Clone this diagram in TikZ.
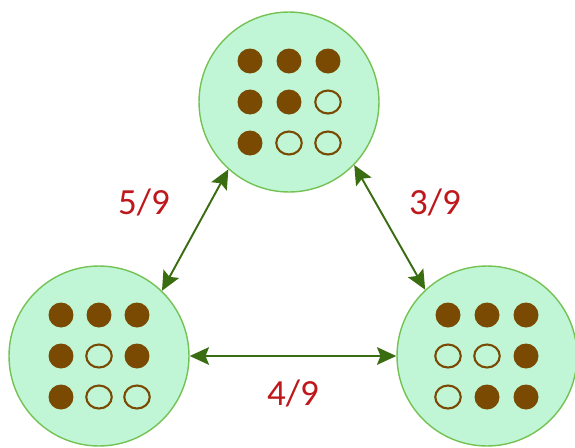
\documentclass[tikz,border=0pt]{standalone}
\usepackage{fontspec}
\setmainfont{Carlito}
\usepackage{xcolor}
\usetikzlibrary{positioning,calc,arrows.meta}

\definecolor{mint}{RGB}{192,246,214}
\definecolor{rim}{RGB}{116,194,84}
\definecolor{link}{RGB}{58,108,18}
\definecolor{bean}{RGB}{122,74,2}
\definecolor{ratio}{RGB}{190,24,28}

\begin{document}
\begin{tikzpicture}[x=0.02cm,y=-0.02cm,<->,>={Stealth[length=11pt,width=10pt,inset=2pt]},
        main node/.style={draw=rim, fill=mint, circle, line width=0.8pt, minimum size=3.6cm},
        link line/.style={draw=link, line width=1.1pt},
        share/.style={text=ratio, font=\fontsize{21}{25}\selectfont},
        dot/.style={fill=bean},
        ring/.style={draw=bean, line width=1.2pt}]

\useasboundingbox (0,0) rectangle (575,447);

\node[main node] (1) at (289,102) {};
\node[main node] (2) at (99,356) {};
\node[main node] (3) at (487,356) {};

\foreach \c/\r in {0/0,1/0,2/0,0/1,1/1,0/2}
  \fill[dot] ($(1)+(\c*39-39,\r*41-41)$) circle (0.25cm);
\foreach \c/\r in {2/1,1/2,2/2}
  \draw[ring,-] ($(1)+(\c*39-39,\r*41-41)$) ellipse (0.255cm and 0.23cm);

\foreach \c/\r in {0/0,1/0,2/0,0/1,2/1,0/2}
  \fill[dot] ($(2)+(\c*38-38,\r*41-41)$) circle (0.25cm);
\foreach \c/\r in {1/1,1/2,2/2}
  \draw[ring,-] ($(2)+(\c*38-38,\r*41-41)$) ellipse (0.255cm and 0.23cm);

\foreach \c/\r in {0/0,1/0,2/0,2/1,1/2,2/2}
  \fill[dot] ($(3)+(\c*39-39,\r*41-41)$) circle (0.25cm);
\foreach \c/\r in {0/1,1/1,0/2}
  \draw[ring,-] ($(3)+(\c*39-39,\r*41-41)$) ellipse (0.255cm and 0.23cm);

\draw[link line] (1.228) -- (2.46);
\draw[link line] (1.316) -- (3.133);
\draw[link line] (2.east) -- (3.west);

\node[share] (4) at (144,202) {5/9};
\node[share] (5) at (435,202) {3/9};
\node[share] (6) at (293,393) {4/9};

\end{tikzpicture}
\end{document}
